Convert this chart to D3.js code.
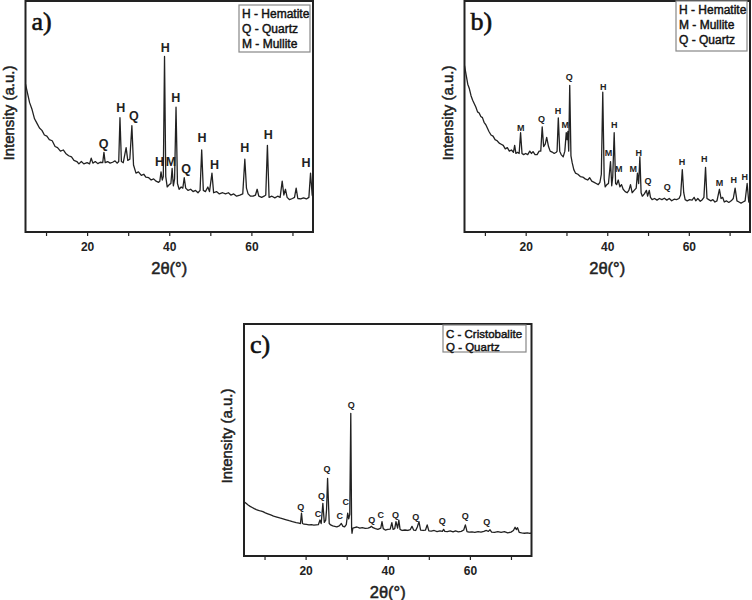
<!DOCTYPE html>
<html>
<head>
<meta charset="utf-8">
<script src="https://cdn.jsdelivr.net/npm/d3@7"></script>
<style>
  body { margin: 0; background: #fff; }
  svg { display: block; }
</style>
</head>
<body>
<svg width="752" height="600"></svg>
<script>
// 2theta ticks shared by all three patterns
var majorTicks = [20, 40, 60];
var minorTicks = [10, 30, 50, 70];

// pattern a) [2theta, intensity a.u.]
var patternA = [[5,64],[5.5,60],[6,56],[6.6,53],[7.2,49],[7.8,47],[8.4,45],[9,44],[9.6,42],[10.2,41.5],[10.8,40],[11.5,39.5],[12.2,37],[12.8,36.5],[13.5,35],[14.2,35.5],[14.8,34],[15.5,33],[16.2,32.5],[16.8,31],[17.5,30.5],[18,29.5],[18.6,30.5],[19.2,29.5],[20,30],[20.6,29.5],[21,32],[21.4,29.8],[22,30.5],[22.6,29.6],[23.2,30.2],[23.8,30],[24.1,34.5],[24.4,30],[25,30.5],[25.6,29.8],[26.2,30.2],[26.8,30.8],[27.3,29.8],[27.7,30.5],[28,49.5],[28.35,30.5],[28.8,30],[29.5,36.5],[29.9,31],[30.4,31.5],[30.9,46],[31.3,29],[31.9,25.5],[32.5,26],[33.2,24.5],[33.8,25],[34.3,23.8],[35,23.5],[35.6,22.5],[36.2,23],[36.8,22],[37.4,21.5],[37.7,22],[38,26],[38.3,22.5],[38.55,24],[38.85,76],[39.15,24],[39.5,19.5],[40,20.5],[40.4,21],[40.7,27.5],[41,20],[41.3,23],[41.65,54],[42,21],[42.4,18.5],[42.9,19.5],[43.3,19],[43.65,23.5],[44,19],[44.6,18],[45.2,18.5],[45.8,17.5],[46.4,18],[47,17],[47.5,18],[47.9,35.5],[48.3,18],[48.8,17.5],[49.4,19.5],[49.8,17.5],[50.4,25.5],[50.8,17],[51.5,17.5],[52.2,16.5],[53,17],[53.7,16.5],[54.4,17],[55,16],[55.7,16.5],[56.4,15.5],[57.2,16],[57.9,16.5],[58.4,31.5],[58.8,19],[59.2,16.5],[59.8,15.5],[60.4,15.5],[61,16],[61.4,18.5],[61.8,15.5],[62.5,15],[63.1,15.5],[63.5,16],[63.9,37.5],[64.3,15],[65,15.5],[65.7,14.8],[66.4,15.5],[67,15],[67.5,22],[67.9,16],[68.3,18.5],[68.7,15],[69.3,14],[70,14.5],[70.5,15],[70.9,19],[71.3,14.5],[72,14.3],[72.7,14.8],[73.4,14.3],[74,15],[74.4,25.5],[74.8,16],[75,15]];

// pattern b)
var patternB = [[5,72],[5.4,68],[5.8,64],[6.2,62],[6.6,59],[7,57],[7.4,55.5],[7.8,54],[8.2,52],[8.6,51.5],[9,50],[9.4,49.5],[9.8,47.5],[10.2,46.5],[10.6,45],[11,43.5],[11.5,42],[12,41.5],[12.5,40],[13,39.5],[13.5,38.5],[14,38],[14.5,37.5],[15,36],[15.5,36.5],[16,35],[16.5,35.5],[17,34.5],[17.3,37.5],[17.6,34],[18,34.5],[18.4,34],[18.75,43],[19.1,34],[19.5,33.5],[20,34],[20.5,33.5],[21,35],[21.4,34],[21.8,34.8],[22.3,33.5],[22.8,33.5],[23.3,35],[23.7,35],[24.05,45.5],[24.4,37],[24.8,38],[25.15,41],[25.6,37],[26,35],[26.5,34.6],[27,34],[27.5,34.5],[27.7,35],[28,49.4],[28.35,35],[28.7,33.5],[29.2,32.5],[29.6,35],[29.95,43],[30.15,40],[30.35,43.5],[30.55,35],[30.8,63.5],[31.1,33],[31.4,30],[31.8,27],[32.2,25.5],[32.8,25],[33.4,24],[34,23.8],[34.6,23],[35.2,22.5],[35.7,23.5],[36.2,22],[36.8,21.5],[37.3,21],[37.8,20.5],[38.2,21.5],[38.55,25],[38.9,60.5],[39.25,23],[39.5,19.5],[39.9,20.5],[40.3,21],[40.8,30.5],[41.1,20],[41.35,24],[41.7,43],[42.05,21],[42.3,20.5],[42.7,22.5],[43.1,19.5],[43.5,20.5],[43.9,18.5],[44.4,17.5],[44.9,17],[45.3,18],[45.7,20.5],[46.1,17],[46.6,18],[47.1,19],[47.4,25.5],[47.7,21],[48,32.5],[48.3,17],[48.6,15.5],[49.1,16.5],[49.6,18],[49.9,15.5],[50.3,18],[50.6,15],[51,14],[51.6,14.5],[52.2,13.8],[52.8,14.5],[53.4,14],[54,14.6],[54.6,13.8],[55.2,14.5],[55.8,13.5],[56.4,14.2],[57,14],[57.6,14.5],[58,16],[58.4,27],[58.75,17],[59.1,14],[59.6,13.5],[60.2,14],[60.8,13.8],[61.3,15],[61.7,13.5],[62.2,14.5],[62.8,13.3],[63.3,14],[63.7,15],[64.1,28],[64.45,14.5],[64.9,14],[65.4,13.5],[65.9,14],[66.4,13],[66.9,13.5],[67.5,18.5],[67.9,14.5],[68.3,15],[68.7,13],[69.2,13.5],[69.8,12.8],[70.4,13.5],[70.9,14.5],[71.35,19],[71.8,13.5],[72.3,13],[72.8,12.5],[73.3,13],[73.8,13.5],[74.3,21],[74.7,13],[75,12.6]];

// pattern c)
var patternC = [[5,23.4],[5.5,22.7],[6,22],[6.5,21.4],[7,20.9],[7.5,20.4],[8,20],[8.5,19.7],[9,19.4],[9.6,19.1],[10.2,18.6],[10.8,18.2],[11.5,17.7],[12.2,17.2],[13,16.8],[13.7,16.4],[14.5,16],[15.3,15.6],[16,15.2],[16.8,14.8],[17.7,14.4],[18.4,14.2],[18.75,14],[19,18.5],[19.25,14],[19.6,13.7],[20.2,13.6],[20.8,13.4],[21.4,13.5],[22,13.3],[22.6,13.4],[23.1,13.5],[23.5,15.5],[23.8,14],[24.2,22.7],[24.55,14.5],[24.9,15.5],[25.1,20],[25.35,33.5],[25.75,14],[26.1,13.4],[26.6,13],[27.1,12.8],[27.6,12.6],[28.2,13],[28.7,14],[29.1,12.8],[29.5,12.6],[29.9,13.5],[30.25,18.5],[30.5,16],[30.75,18],[31,61.5],[31.2,12],[31.3,9.8],[31.5,12],[31.9,12.2],[32.5,12.5],[33.2,12],[33.8,12.2],[34.5,11.9],[35.2,12],[35.7,12.3],[36,12.8],[36.4,12.2],[37,11.8],[37.6,11.5],[38.3,12],[38.6,14.8],[38.9,11.8],[39.4,11.2],[40,11.5],[40.6,11.6],[41,14.4],[41.3,11.5],[41.7,11.8],[42,14.8],[42.4,12],[42.7,15.5],[43,11.5],[43.5,11],[44.2,11.2],[44.9,11],[45.5,11.4],[45.9,12.8],[46.3,11.2],[46.8,11],[47.2,12.5],[47.6,14.8],[48,11.2],[48.6,11],[49.2,11.2],[49.6,13.4],[50,10.8],[50.6,10.7],[51.3,11],[52,10.5],[52.7,10.8],[53.3,10.6],[53.6,11.5],[53.9,10.6],[54.5,10.5],[55.2,10.8],[55.9,10.4],[56.5,10.8],[57.2,10.4],[57.9,10.6],[58.5,11.2],[58.9,13.4],[59.3,10.5],[59.8,10.3],[60.5,10.4],[61.2,10.2],[62,10.5],[62.7,10.3],[63.4,10.6],[64,11],[64.5,10.6],[64.9,11.3],[65.3,10.3],[66,10.2],[66.8,10.5],[67.6,10.2],[68.4,10.5],[69.2,10],[70,10.3],[70.6,11],[71,12.4],[71.3,11.4],[71.6,12.2],[72,10.2],[72.6,10],[73.3,9.8],[74,10],[74.6,9.8],[75,9.9]];

// phase markers [2theta, intensity, letter]
var peaksA = [[24,38.5,"Q"],[28.2,54,"H"],[31.4,50.6,"Q"],[39,79.7,"H"],[41.6,58.4,"H"],[37.6,30.7,"H"],[40.4,30.7,"M"],[44.1,27.3,"Q"],[48,40.7,"H"],[51,29.4,"H"],[58.4,36.4,"H"],[64.1,42,"H"],[73.3,29.9,"H"]];
var peaksB = [[18.8,45,"M"],[23.9,48.9,"Q"],[27.9,52.4,"H"],[29.7,46.3,"M"],[30.7,67,"Q"],[39,62.8,"H"],[41.7,46.3,"H"],[40.3,34.2,"M"],[42.8,27.3,"M"],[46.4,27.3,"M"],[47.7,34.2,"H"],[50,22,"Q"],[54.7,19.5,"Q"],[58.3,30.3,"H"],[63.8,31.6,"H"],[67.5,21.2,"M"],[71,22.5,"H"],[73.7,23.8,"H"]];
var peaksC = [[18.8,21.3,"Q"],[23,18.4,"C"],[23.9,25.9,"Q"],[25.2,37.4,"Q"],[28.3,17.2,"C"],[29.8,23.4,"C"],[31.1,65.1,"Q"],[36.1,15.5,"Q"],[38.3,17.7,"C"],[41.9,17.7,"Q"],[46.8,16.7,"Q"],[53.3,15.2,"Q"],[58.9,17.4,"Q"],[64.1,14.8,"Q"]];

var legendA = ["H - Hematite", "Q - Quartz", "M - Mullite"];
var legendB = ["H - Hematite", "M - Mullite", "Q - Quartz"];
var legendC = ["C - Cristobalite", "Q - Quartz"];

var svg = d3.select("svg");
var sans = "'Liberation Sans', Arial, sans-serif";

// slightly heavier regular text, like the scanned figure
function heavy(sel, w) {
  return sel.attr("stroke", "#222").attr("stroke-width", w).attr("paint-order", "stroke");
}

function drawPanel(p) {
  var x = d3.scaleLinear().domain([5, 75]).range([p.left, p.right]);
  var y = d3.scaleLinear().domain([0, 100]).range([p.bottom, p.top]);
  var g = svg.append("g");

  // minor + major ticks, outward
  g.append("g")
    .attr("transform", "translate(0," + p.bottom + ")")
    .call(d3.axisBottom(x).tickValues(minorTicks).tickSize(4).tickFormat(""))
    .call(a => a.select(".domain").remove())
    .selectAll("line").attr("stroke", "#222").attr("stroke-width", 1.2);

  var ax = g.append("g")
    .attr("transform", "translate(0," + p.bottom + ")")
    .call(d3.axisBottom(x).tickValues(majorTicks).tickSize(4).tickPadding(6));
  ax.select(".domain").remove();
  ax.selectAll("line").attr("stroke", "#222").attr("stroke-width", 1.2);
  ax.selectAll("text")
    .attr("font-family", sans).attr("font-size", 12).attr("font-weight", "bold").attr("fill", "#222");

  // the pattern
  var line = d3.line().x(d => x(d[0])).y(d => y(d[1]));
  g.append("path")
    .datum(p.data)
    .attr("d", line)
    .attr("fill", "none")
    .attr("stroke", "#222")
    .attr("stroke-width", 1.3)
    .attr("stroke-linejoin", "round");

  // frame
  g.append("rect")
    .attr("x", p.left).attr("y", p.top)
    .attr("width", p.right - p.left).attr("height", p.bottom - p.top)
    .attr("fill", "none").attr("stroke", "#222").attr("stroke-width", 2);

  // peak letters
  g.selectAll("text.peak")
    .data(p.peaks)
    .enter().append("text")
    .attr("class", "peak")
    .attr("x", d => x(d[0]))
    .attr("y", d => y(d[1]))
    .attr("dy", "0.36em")
    .attr("text-anchor", "middle")
    .attr("font-family", sans)
    .attr("font-weight", "bold")
    .attr("font-size", p.peakSize)
    .attr("fill", "#222")
    .text(d => d[2]);

  // legend
  var lg = g.append("g");
  lg.append("rect")
    .attr("x", p.legend.x).attr("y", p.legend.y)
    .attr("width", p.legend.w).attr("height", p.legend.h)
    .attr("fill", "#fff").attr("stroke", "#888").attr("stroke-width", 1.2);
  heavy(lg.selectAll("text")
    .data(p.legendItems)
    .enter().append("text")
    .attr("x", p.legend.x + 3)
    .attr("y", (d, i) => p.legend.y + 9 + i * p.legend.step)
    .attr("dy", "0.36em")
    .attr("font-family", sans)
    .attr("font-size", p.legend.size)
    .attr("fill", "#111")
    .text(d => d), 0.45);

  // panel letter
  heavy(g.append("text")
    .attr("x", p.left + 6).attr("y", p.top + 29)
    .attr("font-family", "'Liberation Serif', 'Times New Roman', serif")
    .attr("font-size", 26)
    .attr("fill", "#111")
    .text(p.tag), 0.6);

  // axis titles
  heavy(g.append("text")
    .attr("x", (p.left + p.right) / 2).attr("y", p.bottom + 36)
    .attr("dy", "0.36em")
    .attr("text-anchor", "middle")
    .attr("font-family", sans).attr("font-size", 16.5).attr("fill", "#222")
    .text("2θ(°)"), 0.5);

  heavy(g.append("text")
    .attr("transform", "translate(" + (p.left - 17) + "," + (p.top + 112) + ") rotate(-90)")
    .attr("dy", "0.36em")
    .attr("text-anchor", "middle")
    .attr("font-family", sans).attr("font-size", 15).attr("fill", "#222")
    .text("Intensity (a.u.)"), 0.5);
}

drawPanel({tag: "a)", data: patternA, peaks: peaksA, peakSize: 12.5, legendItems: legendA,
  left: 25.5, right: 313, top: 1, bottom: 232,
  legend: {x: 239, y: 5, w: 71, h: 47, step: 14.8, size: 12}});
drawPanel({tag: "b)", data: patternB, peaks: peaksB, peakSize: 9, legendItems: legendB,
  left: 464.5, right: 750, top: 1, bottom: 232,
  legend: {x: 676, y: 1, w: 71, h: 50, step: 14.8, size: 12}});
drawPanel({tag: "c)", data: patternC, peaks: peaksC, peakSize: 9, legendItems: legendC,
  left: 244, right: 531.5, top: 324, bottom: 556,
  legend: {x: 443, y: 325, w: 83, h: 27, step: 13, size: 11.5}});
</script>
</body>
</html>
